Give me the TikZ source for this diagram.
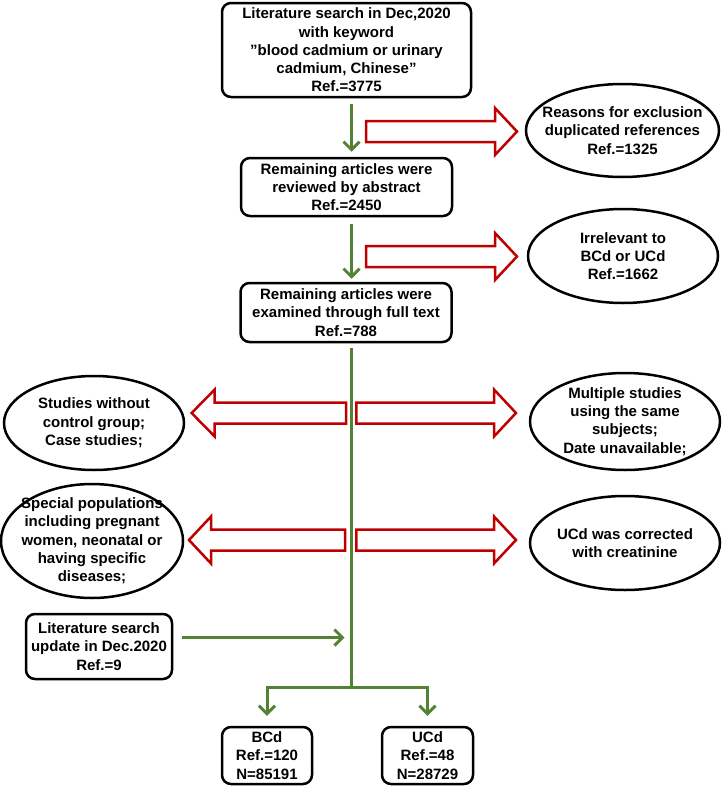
\documentclass[tikz,border=0pt]{standalone}
\usepackage{fontspec}
\setmainfont{Liberation Sans}
\usetikzlibrary{shapes.geometric,arrows.meta}
\definecolor{myred}{RGB}{192,0,0}
\definecolor{mygreen}{RGB}{84,130,53}
\newcommand\myblock[4]{\draw[redarrow] (#1,#4-10.5) -- (#2,#4-10.5) -- (#2,#4-23.5) -- (#3,#4) -- (#2,#4+23.5) -- (#2,#4+10.5) -- (#1,#4+10.5) -- cycle;}
\begin{document}
\begin{tikzpicture}[x=1pt,y=-1pt,
  every node/.style={font=\fontsize{15}{18.3}\selectfont\bfseries, align=center, inner sep=0pt},
  rbox/.style={draw, line width=2.5pt, rounded corners=9pt},
  ell/.style={draw, ellipse, line width=2.5pt, inner sep=-40pt},
  redarrow/.style={draw=myred, line width=2.5pt, fill=white, line join=miter},
  gline/.style={draw=mygreen, line width=3pt},
  garrow/.style={draw=mygreen, line width=3pt, -{Straight Barb[length=8pt,width=16pt]}},
]
\useasboundingbox (0,0) rectangle (724,787);
% boxes
\node[rbox, minimum width=249pt, minimum height=94pt] (b1) at (346.5,50) {Literature search in Dec,2020\\with keyword\\”blood cadmium or urinary\\cadmium, Chinese”\\Ref.=3775};
\node[rbox, minimum width=211pt, minimum height=58pt] (b2) at (346.5,187) {Remaining articles were\\reviewed by abstract\\Ref.=2450};
\node[rbox, minimum width=211pt, minimum height=59pt] (b3) at (346,312.5) {Remaining articles were\\examined through full text\\Ref.=788};
\node[rbox, minimum width=146pt, minimum height=65pt] (upd) at (99,646.5) {Literature search\\update in Dec.2020\\Ref.=9};
\node[rbox, minimum width=90pt, minimum height=57pt] (bcd) at (267,755.5) {BCd\\Ref.=120\\N=85191};
\node[rbox, minimum width=91pt, minimum height=57pt] (ucd) at (427.5,755.5) {UCd\\Ref.=48\\N=28729};
% ellipses
\node[ell, minimum width=193pt, minimum height=93pt] (e1) at (622.5,130.5) {Reasons for exclusion\\duplicated references\\Ref.=1325};
\node[ell, minimum width=190pt, minimum height=94pt] (e2) at (623,256) {Irrelevant to\\BCd or UCd\\Ref.=1662};
\node[ell, minimum width=180pt, minimum height=94pt] (e3) at (94,423) {Studies without\\control group;\\Case studies;};
\node[ell, minimum width=190pt, minimum height=97pt] (e4) at (625,421.5) {Multiple studies\\using the same\\subjects;\\Date unavailable;};
\node[ell, minimum width=182pt, minimum height=114pt] (e5) at (92,541) {Special populations\\including pregnant\\women, neonatal or\\having specific\\diseases;};
\node[ell, minimum width=190pt, minimum height=94pt] (e6) at (625,543) {UCd was corrected\\with creatinine};
% red block arrows
\myblock{366}{495}{517}{131.5}
\myblock{366}{495}{517}{256.5}
\myblock{346}{214.7}{191.6}{413}
\myblock{356.4}{494}{516}{413}
\myblock{345}{211}{189}{540}
\myblock{356.4}{494}{516}{540}
% green connectors
\coordinate (split) at (351.5,687);
\coordinate (join) at (351.5,637.5);
\draw[garrow, shorten <=6pt, shorten >=5pt] ([xshift=5pt]b1.south) -- ([xshift=5pt]b2.north);
\draw[garrow, shorten <=7pt, shorten >=3pt] ([xshift=5pt]b2.south) -- ([xshift=5.5pt]b3.north);
\draw[gline, shorten <=5pt] ([xshift=5.5pt]b3.south) -- (split);
\draw[garrow, shorten >=10pt] (split) -| (bcd.north);
\draw[garrow, shorten >=10pt] (split) -| (ucd.north);
\draw[garrow, shorten <=9pt, shorten >=7pt] (upd.east |- join) -- (join);
\end{tikzpicture}
\end{document}
